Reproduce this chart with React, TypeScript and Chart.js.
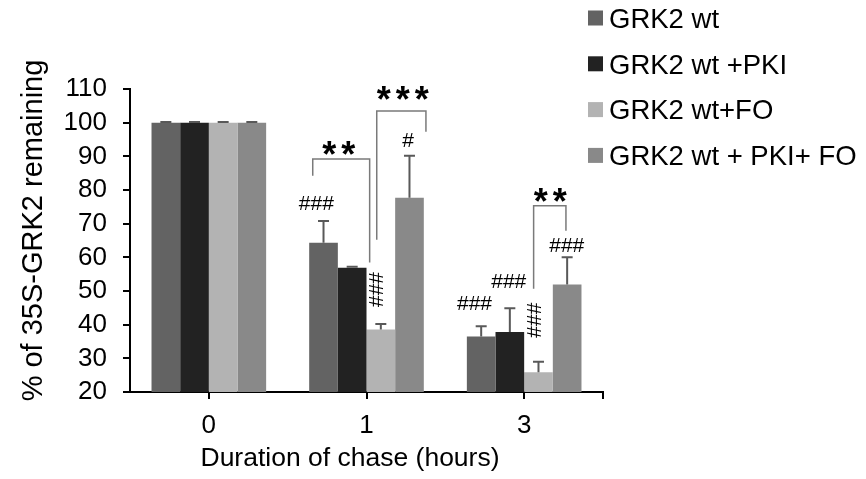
import React, { useEffect, useRef } from 'react';
import { Chart, registerables } from 'chart.js';

Chart.register(...registerables);

// ---------- data ----------
const categories = ['0', '1', '3'];
const seriesNames = ['GRK2 wt', 'GRK2 wt +PKI', 'GRK2 wt+FO', 'GRK2 wt + PKI+ FO'];
const wtValues = [100, 64.3, 36.5];
const wtErrors = [0.2, 6.5, 3.0];
const pkiValues = [100, 56.9, 37.8];
const pkiErrors = [0.2, 0.3, 7.1];
const foValues = [100, 38.6, 25.9];
const foErrors = [0.2, 1.6, 3.1];
const pkiFoValues = [100, 77.7, 51.9];
const pkiFoErrors = [0.2, 12.5, 8.1];
const yMin = 20;
const yMax = 110;
const yStep = 10;
const xTitle = 'Duration of chase (hours)';
const yTitle = '% of 35S-GRK2 remaining';

// significance marks (category index, offset in category widths, value at mark centre)
const hashMarks = [
  { cat: 1, dx: -0.318, v: 76.2, text: '###', vertical: false },
  { cat: 1, dx: 0.065, v: 50.4, text: '###', vertical: true },
  { cat: 1, dx: 0.263, v: 95.0, text: '#', vertical: false },
  { cat: 2, dx: -0.315, v: 46.4, text: '###', vertical: false },
  { cat: 2, dx: -0.098, v: 53.0, text: '###', vertical: false },
  { cat: 2, dx: 0.067, v: 41.3, text: '###', vertical: true },
  { cat: 2, dx: 0.27, v: 63.8, text: '###', vertical: false },
];
const starMarks = [
  { cat: 1, dx: -0.176, v: 92.9, text: '**' },
  { cat: 1, dx: 0.23, v: 109.3, text: '***' },
  { cat: 2, dx: 0.166, v: 79.0, text: '**' },
];
const brackets = [
  { cat: 1, dxL: -0.341, dxR: 0.02, vTop: 89.2, vL: 84.2, vR: 58.5 },
  { cat: 1, dxL: 0.065, dxR: 0.377, vTop: 103.5, vL: 65.2, vR: 97.3 },
  { cat: 2, dxL: 0.06, dxR: 0.265, vTop: 75.3, vL: 50.7, vR: 67.9 },
];

// ---------- styles ----------
const FONT = '"Liberation Sans", Arial, Helvetica, sans-serif';
const colors = ['#636363', '#222222', '#b3b3b3', '#898989'];
const errColor = '#595959';
const bracketColor = '#7a7a7a';

const overlayPlugin = {
  id: 'overlay',
  afterDatasetsDraw(chart: any) {
    const ctx = chart.ctx;
    const ys = chart.scales.y;
    const errorSets = [wtErrors, pkiErrors, foErrors, pkiFoErrors];
    ctx.save();
    ctx.strokeStyle = errColor;
    ctx.lineWidth = 2;
    chart.data.datasets.forEach((ds: any, di: number) => {
      const meta = chart.getDatasetMeta(di);
      meta.data.forEach((bar: any, i: number) => {
        const v = ds.data[i];
        const e = errorSets[di][i];
        const top = ys.getPixelForValue(v + e);
        const base = ys.getPixelForValue(v);
        ctx.beginPath();
        ctx.moveTo(bar.x, base);
        ctx.lineTo(bar.x, top);
        ctx.moveTo(bar.x - 5.5, top);
        ctx.lineTo(bar.x + 5.5, top);
        ctx.stroke();
      });
    });
    ctx.restore();
  },
  afterDraw(chart: any) {
    const ctx = chart.ctx;
    const xs = chart.scales.x;
    const ys = chart.scales.y;
    const area = chart.chartArea;
    const catW = (xs.right - xs.left) / categories.length;
    const px = (cat: number, dx: number) => xs.left + catW * (cat + 0.5) + dx * catW;
    ctx.save();

    // end tick on x axis
    ctx.strokeStyle = '#000';
    ctx.lineWidth = 2;
    ctx.beginPath();
    ctx.moveTo(area.right, area.bottom);
    ctx.lineTo(area.right, area.bottom + 7);
    ctx.stroke();

    // brackets
    ctx.strokeStyle = bracketColor;
    ctx.lineWidth = 1.5;
    brackets.forEach((b) => {
      const xl = px(b.cat, b.dxL);
      const xr = px(b.cat, b.dxR);
      ctx.beginPath();
      ctx.moveTo(xl, ys.getPixelForValue(b.vL));
      ctx.lineTo(xl, ys.getPixelForValue(b.vTop));
      ctx.lineTo(xr, ys.getPixelForValue(b.vTop));
      ctx.lineTo(xr, ys.getPixelForValue(b.vR));
      ctx.stroke();
    });

    ctx.fillStyle = '#000';
    ctx.textAlign = 'center';
    ctx.textBaseline = 'alphabetic';

    // hash marks
    const hs = 21;
    ctx.font = `${hs}px ${FONT}`;
    hashMarks.forEach((m) => {
      const x = px(m.cat, m.dx);
      const y = ys.getPixelForValue(m.v);
      ctx.save();
      ctx.translate(x, y);
      if (m.vertical) ctx.rotate(Math.PI / 2);
      ctx.fillText(m.text, 0, hs * 0.35);
      ctx.restore();
    });

    // stars
    const ss = 36;
    ctx.font = `bold ${ss}px ${FONT}`;
    (ctx as any).letterSpacing = '5px';
    starMarks.forEach((m) => {
      const x = px(m.cat, m.dx);
      const y = ys.getPixelForValue(m.v);
      ctx.fillText(m.text, x + 2.5, y + ss * 0.57);
    });
    (ctx as any).letterSpacing = '0px';

    // axis titles
    ctx.font = `26.5px ${FONT}`;
    ctx.fillText(xTitle, 350, 466);
    ctx.save();
    ctx.font = `29px ${FONT}`;
    ctx.translate(41.5, 230.5);
    ctx.rotate(-Math.PI / 2);
    ctx.fillText(yTitle, 0, 0);
    ctx.restore();

    // legend
    ctx.textAlign = 'left';
    ctx.font = `27.5px ${FONT}`;
    seriesNames.forEach((name, i) => {
      const cy = 18 + i * 45.8;
      ctx.fillStyle = colors[i];
      ctx.fillRect(588, cy - 7.5, 15, 15);
      ctx.fillStyle = '#000';
      ctx.fillText(name, 609, cy + 27.5 * 0.358);
    });
    ctx.restore();
  },
};

export default function App() {
  const ref = useRef<HTMLCanvasElement>(null);
  useEffect(() => {
    const canvas = ref.current;
    if (!canvas) return;
    const valueSets = [wtValues, pkiValues, foValues, pkiFoValues];
    const chart = new Chart(canvas, {
      type: 'bar',
      data: {
        labels: categories,
        datasets: seriesNames.map((name, i) => ({
          label: name,
          data: valueSets[i],
          backgroundColor: colors[i],
          borderWidth: 0,
          categoryPercentage: 0.727,
          barPercentage: 1,
        })),
      },
      options: {
        responsive: false,
        animation: false,
        layout: { padding: { top: 89, right: 263, left: 0, bottom: 0 } },
        plugins: { legend: { display: false }, tooltip: { enabled: false } },
        scales: {
          x: {
            offset: true,
            grid: { offset: false, drawOnChartArea: false, color: '#000', lineWidth: 2, tickLength: 7 },
            border: { color: '#000', width: 2 },
            ticks: { color: '#000', font: { size: 26, family: FONT }, padding: 11, autoSkip: false, maxRotation: 0 },
            afterFit: (s: any) => { s.height = 87; },
          },
          y: {
            min: yMin,
            max: yMax,
            grid: { drawOnChartArea: false, color: '#000', lineWidth: 2, tickLength: 7 },
            border: { color: '#000', width: 2 },
            ticks: { stepSize: yStep, color: '#000', font: { size: 26, family: FONT }, padding: 16, autoSkip: false },
            afterFit: (s: any) => { s.width = 130; },
          },
        },
      },
      plugins: [overlayPlugin],
    });
    return () => chart.destroy();
  }, []);
  return (
    <div style={{ position: 'absolute', left: 0, top: 0, width: 866, height: 479, background: '#fff' }}>
      <canvas ref={ref} width={866} height={479} />
    </div>
  );
}
